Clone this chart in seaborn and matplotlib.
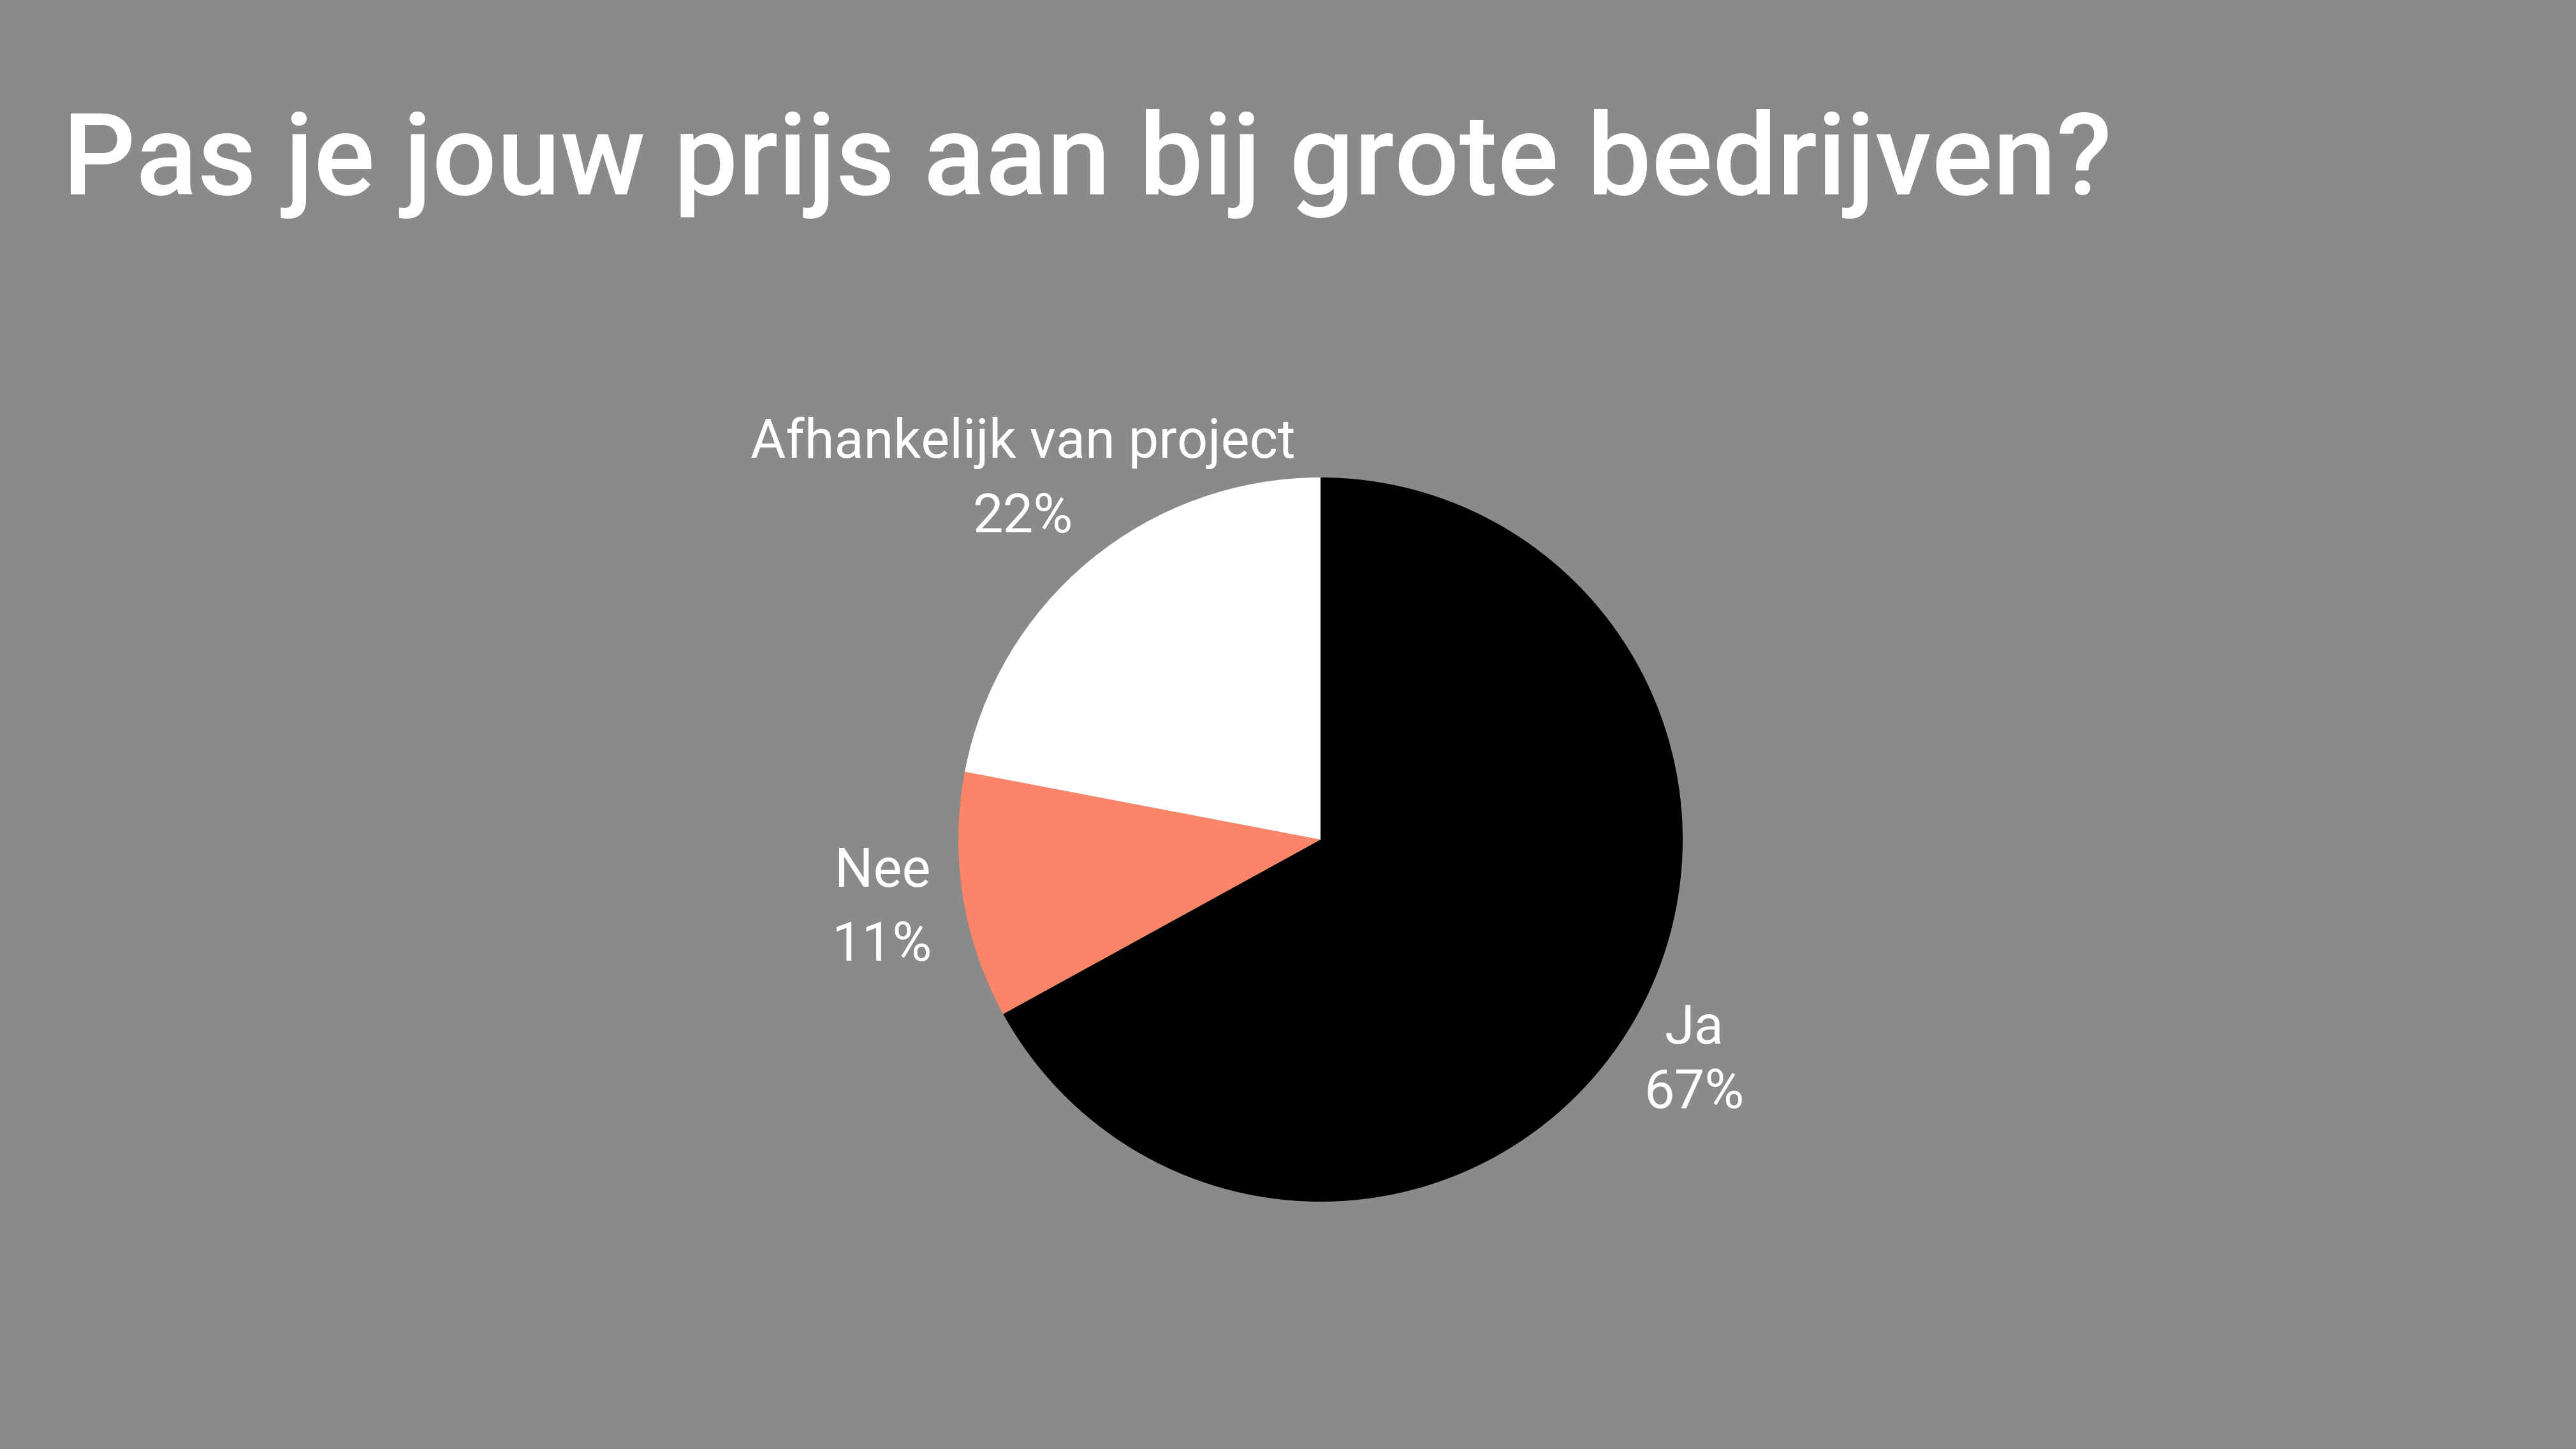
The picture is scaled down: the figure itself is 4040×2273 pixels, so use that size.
import matplotlib
matplotlib.use("Agg")
import matplotlib.pyplot as plt
import seaborn as sns
import numpy as np

# ---- data ----
categories = ["Ja", "Nee", "Afhankelijk van project"]
values = [67, 11, 22]
title = "Pas je jouw prijs aan bij grote bedrijven?"

# ---- style ----
BG = "#8b8a88"
slice_colors = ["#000000", "#fa8568", "#ffffff"]
label_dist = [1.2, 1.225, 1.29]
label_spacing = [1.3, 1.55, 1.55]

sns.set_theme(style="white")
plt.rcParams["font.family"] = ["Roboto", "DejaVu Sans"]

W, H = 4040, 2273
fig = plt.figure(figsize=(W / 100, H / 100), dpi=100, facecolor=BG)

cx, cy, r = 2071, 1317, 568
ax = fig.add_axes([(cx - r) / W, (H - cy - r) / H, 2 * r / W, 2 * r / H])
ax.set_facecolor(BG)

palette = sns.color_palette(slice_colors)
labels = [f"{c}\n{v}%" for c, v in zip(categories, values)]
wedges, texts = ax.pie(values, labels=labels, colors=palette, startangle=90,
                       counterclock=False, radius=1, labeldistance=1.2,
                       wedgeprops=dict(linewidth=0),
                       textprops=dict(color="white", fontsize=61))
for w, t, d, ls in zip(wedges, texts, label_dist, label_spacing):
    ang = np.deg2rad((w.theta1 + w.theta2) / 2)
    t.set_position((d * np.cos(ang), d * np.sin(ang)))
    t.set_ha("center")
    t.set_va("center")
    t.set_multialignment("center")
    t.set_linespacing(ls)

ax.set_xlim(-1, 1)
ax.set_ylim(-1, 1)
ax.set_aspect("equal")
ax.axis("off")

fig.text(98 / W, 1 - 305 / H, title, color="white", fontsize=129,
         fontweight="medium", ha="left", va="baseline")

fig.savefig("out.png", dpi=100, facecolor=BG)
